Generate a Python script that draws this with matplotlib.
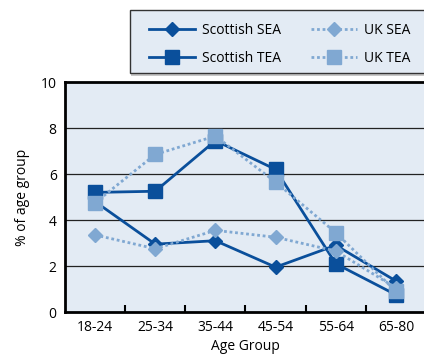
import matplotlib.pyplot as plt
from matplotlib.patches import Rectangle
import numpy as np

plt.rcParams['font.family'] = ['Open Sans', 'DejaVu Sans']

age_groups = ['18-24', '25-34', '35-44', '45-54', '55-64', '65-80']
scottish_sea = [4.8, 2.95, 3.1, 1.95, 2.9, 1.35]
scottish_tea = [5.2, 5.25, 7.45, 6.2, 2.1, 0.75]
uk_sea = [3.35, 2.75, 3.55, 3.25, 2.65, 1.05]
uk_tea = [4.75, 6.85, 7.65, 5.65, 3.45, 0.9]

dark = '#0a4f9b'
light = '#80a8d2'
panel = '#e3ebf4'

W, H = 424, 361
fig = plt.figure(figsize=(W / 100, H / 100), dpi=100)
ax = fig.add_axes([65 / W, 49 / H, 361 / W, 230 / H])
ax.set_facecolor(panel)

x = np.arange(len(age_groups))

l_ssea, = ax.plot(x, scottish_sea, color=dark, linewidth=2, marker='D',
                  markersize=7.5, label='Scottish SEA', zorder=3)
l_stea, = ax.plot(x, scottish_tea, color=dark, linewidth=2, marker='s',
                  markersize=9.5, label='Scottish TEA', zorder=3)
l_usea, = ax.plot(x, uk_sea, color=light, linestyle=(0, (1, 1)), linewidth=2,
                  marker='D', markersize=7.5, label='UK SEA', zorder=4)
l_utea, = ax.plot(x, uk_tea, color=light, linestyle=(0, (1, 1)), linewidth=2,
                  marker='s', markersize=9.5, label='UK TEA', zorder=4)

ax.set_xlim(-0.5, len(age_groups) - 0.5)
ax.set_ylim(0, 10)
ax.set_yticks([0, 2, 4, 6, 8, 10])
ax.set_xticks(x)
ax.set_xticklabels(age_groups, fontsize=10)
ax.tick_params(axis='x', length=0, pad=6)
ax.tick_params(axis='y', length=0, labelsize=10, pad=6)

# category separators on the bottom axis
ax.set_xticks(x[:-1] + 0.5, minor=True)
ax.tick_params(axis='x', which='minor', direction='in', length=5, width=1.5)

for yv in [2, 4, 6, 8]:
    ax.axhline(yv, color='#222222', linewidth=0.9, zorder=1)

for side in ['left', 'bottom', 'top']:
    ax.spines[side].set_linewidth(2)
ax.spines['right'].set_visible(False)

ax.set_xlabel('Age Group', fontsize=10, labelpad=3)
ax.set_ylabel('% of age group', fontsize=10, labelpad=8)

# legend box runs off the right edge, with a faint shadow underneath
fig.patches.append(Rectangle((131 / W, 1 - 76 / H), 300 / W, 2 / H,
                             transform=fig.transFigure, facecolor='#c8c8c8',
                             edgecolor='none', zorder=1))
fig.patches.append(Rectangle((130 / W, 1 - 73 / H), 300 / W, 63 / H,
                             transform=fig.transFigure, facecolor=panel,
                             edgecolor='#333333', linewidth=1, zorder=2))

leg = fig.legend([l_ssea, l_stea, l_usea, l_utea],
                 ['Scottish SEA', 'Scottish TEA', 'UK SEA', 'UK TEA'],
                 loc='upper left', bbox_to_anchor=(135 / W, 1 - 9 / H),
                 ncol=2, fontsize=10, frameon=False,
                 handlelength=3.3, handletextpad=0.5, columnspacing=2.2,
                 borderpad=0.5, labelspacing=0.95)
leg.set_zorder(5)

fig.savefig('out.png', dpi=100)
